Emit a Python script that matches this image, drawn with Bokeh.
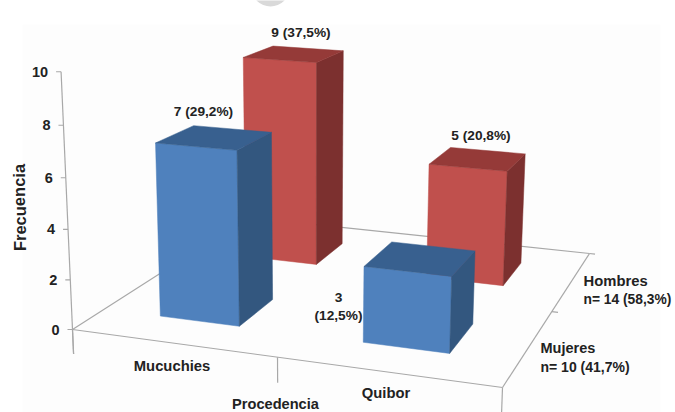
from bokeh.core.properties import value
from bokeh.embed import file_html
from bokeh.models import ColumnDataSource, Range1d
from bokeh.plotting import figure
from bokeh.resources import INLINE

# Frequency table: procedencia (columns) by sex (depth rows)
places = ["Mucuchies", "Quibor"]
sexes = ["Mujeres", "Hombres"]
mujeres = [7, 3]
hombres = [9, 5]
z_ticks = [0, 2, 4, 6, 8, 10]
value_labels = {
    (0, 0): ["7 (29,2%)"],
    (1, 0): ["3", "(12,5%)"],
    (0, 1): ["9 (37,5%)"],
    (1, 1): ["5 (20,8%)"],
}
sex_labels = [["Mujeres", "n= 10 (41,7%)"], ["Hombres", " n= 14 (58,3%)"]]

W, H = 675, 412
FONT = value("Liberation Sans")
TEXT = "#222222"
AXIS = "#a8a8a8"
BLUE = ("#4f81bd", "#33577f", "#38608f")
RED = ("#c0504d", "#7c302f", "#953a38")


def project(col, row, z=0.0):
    """Perspective camera: col and row span the floor in 0..2, z is frequency."""
    u, v = col / 2, row / 2
    num_x = 385.34 * u + 244.15 * v + 72 - 1.42 * z
    num_y = 23.57 * u - 51.25 * v + 329 - 26.1 * z
    den = -0.08897 * u + 0.27994 * v + 1 - 0.00458 * z
    return num_x / den, num_y / den


p = figure(
    width=W, height=H, output_backend="svg", toolbar_location=None,
    x_range=Range1d(0, W), y_range=Range1d(H, 0), min_border=0,
)
p.axis.visible = False
p.grid.visible = False
p.outline_line_color = None
p.background_fill_color = "#ffffff"
p.border_fill_color = "#ffffff"

# Faint page panel and the cropped grey disc along the top edge
p.quad(left=[22], right=[660], top=[24], bottom=[H], fill_color="#fdfdfd", line_color=None)
p.circle(x=[270], y=[-13], radius=19, fill_color="#d9d9d9", line_color=None)


def segment(a, b):
    p.line([a[0], b[0]], [a[1], b[1]], line_color=AXIS, line_width=1.2)


# Floor outline, vertical axis and tick marks
segment(project(0, 0), project(2, 0))
segment(project(2, 0), project(2, 2))
segment(project(2, 2), project(0, 2))
segment(project(0, 2), project(0, 0))
segment(project(0, 0, -1), project(0, 0, 10))
for c in range(len(places) + 1):
    segment(project(c, 0), project(c, 0, -1))
for r in range(1, len(sexes) + 1):
    segment(project(2, r), project(2.03, r))
for z in z_ticks:
    x, y = project(0, 0, z)
    p.line([x - 5, x], [y, y], line_color=AXIS, line_width=1.2)


def bar(col, row, height, colours):
    """One box on the floor grid, with its front, side and top faces."""
    x0, x1 = col + 0.29, col + 0.69
    y0, y1 = row + 0.3, row + 0.7
    front = [project(x0, y0), project(x1, y0), project(x1, y0, height), project(x0, y0, height)]
    side = [project(x1, y0), project(x1, y1), project(x1, y1, height), project(x1, y0, height)]
    top = [project(x0, y0, height), project(x1, y0, height), project(x1, y1, height), project(x0, y1, height)]
    for face, colour in zip((front, side, top), colours):
        p.patch([q[0] for q in face], [q[1] for q in face], fill_color=colour, line_color=colour, line_width=0.5)


# Back row first so the front row overlaps it
for col, height in enumerate(hombres):
    bar(col, 1, height, RED)
for col, height in enumerate(mujeres):
    bar(col, 0, height, BLUE)


def label(x, y, s, size="12px", align="left", angle=0.0):
    src = ColumnDataSource(dict(x=[x], y=[y], t=[s]))
    p.text("x", "y", text="t", source=src, text_font=FONT, text_font_size=size,
           text_font_style="bold", text_color=TEXT, text_align=align,
           text_baseline="middle", angle=angle)


for z in z_ticks:
    x, y = project(0, 0, z)
    label(x - 13, y, str(z), size="14.5px", align="right")

label(19, 207, "Frecuencia", size="16.5px", align="center", angle=1.5708)
label(171.5, 365, places[0], size="14.8px", align="center")
label(385.5, 392, places[1], size="14.8px", align="center")
label(275, 403, "Procedencia", size="14.6px", align="center")

label(203, 111, value_labels[(0, 0)][0], size="13.7px", align="center")
label(300.5, 32, value_labels[(0, 1)][0], size="13.7px", align="center")
label(480.5, 135, value_labels[(1, 1)][0], size="13.7px", align="center")
label(338, 297, value_labels[(1, 0)][0], size="13.7px", align="center")
label(338, 315, value_labels[(1, 0)][1], size="13.7px", align="center")

label(540, 347, sex_labels[0][0], size="14.5px")
label(540, 366, sex_labels[0][1], size="14px")
label(583, 280, sex_labels[1][0], size="14.8px")
label(583, 299, sex_labels[1][1], size="13.8px")

open("out.html", "w").write(file_html(p, INLINE))
